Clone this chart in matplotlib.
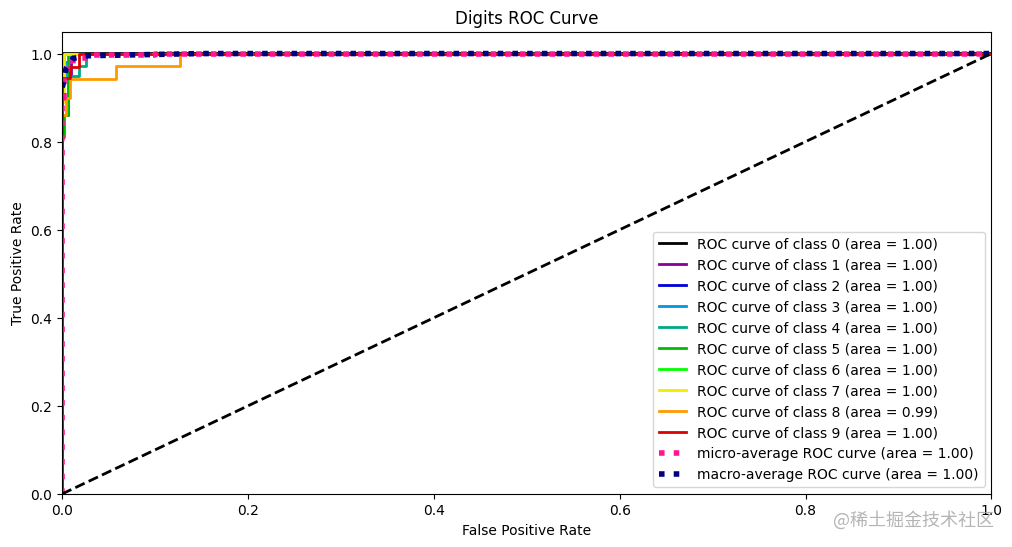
import matplotlib
matplotlib.use("Agg")
import matplotlib.pyplot as plt

class_fpr = [
    [0, 0, 0.001, 1],
    [0, 0, 0.006, 0.006, 0.010, 0.010, 1],
    [0, 0, 0.002, 0.002, 1],
    [0, 0, 0.003, 0.003, 0.010, 0.010, 1],
    [0, 0, 0.006, 0.006, 0.018, 0.018, 0.026, 0.026, 1],
    [0, 0, 0.002, 0.002, 0.006, 0.006, 1],
    [0, 0, 0.002, 0.002, 1],
    [0, 0, 0.002, 0.002, 0.018, 0.018, 1],
    [0, 0, 0.004, 0.004, 0.009, 0.009, 0.058, 0.058, 0.127, 0.127, 1],
    [0, 0, 0.0086, 0.0086, 0.0183, 0.0183, 1],
]
class_tpr = [
    [0, 0.98, 1, 1],
    [0, 0.86, 0.86, 0.95, 0.95, 1, 1],
    [0, 0.98, 0.98, 1, 1],
    [0, 0.95, 0.95, 0.98, 0.98, 1, 1],
    [0, 0.90, 0.90, 0.948, 0.948, 0.972, 0.972, 1, 1],
    [0, 0.81, 0.81, 0.86, 0.86, 1, 1],
    [0, 0.99, 0.99, 1, 1],
    [0, 0.89, 0.89, 1, 1, 1, 1],
    [0, 0.86, 0.86, 0.90, 0.90, 0.943, 0.943, 0.971, 0.971, 1, 1],
    [0, 0.945, 0.945, 0.97, 0.97, 1, 1],
]
class_area = ["1.00", "1.00", "1.00", "1.00", "1.00", "1.00", "1.00", "1.00", "0.99", "1.00"]
micro_fpr = [0, 0, 0.002, 0.002, 0.005, 0.005, 0.012, 0.012, 0.03, 0.03, 0.1, 0.1, 1]
micro_tpr = [0, 0.90, 0.90, 0.95, 0.95, 0.975, 0.975, 0.99, 0.99, 0.997, 0.997, 1, 1]
macro_fpr = [0, 0.002, 0.0043, 0.012, 0.027, 0.15, 1]
macro_tpr = [0.9235, 0.936, 0.966, 0.989, 0.995, 1, 1]
diag = [0, 1]

fig = plt.figure(figsize=(10.125, 5.475), dpi=100)
ax = fig.add_axes([62 / 1012, (547 - 494) / 547, 929 / 1012, 462 / 547])
cmap = plt.get_cmap("nipy_spectral")
for i in range(10):
    ax.plot(class_fpr[i], class_tpr[i], lw=2, color=cmap(i / 10),
            label=f"ROC curve of class {i} (area = {class_area[i]})")
ax.plot(micro_fpr, micro_tpr, label="micro-average ROC curve (area = 1.00)",
        color="deeppink", linestyle=":", linewidth=4)
ax.plot(macro_fpr, macro_tpr, label="macro-average ROC curve (area = 1.00)",
        color="navy", linestyle=":", linewidth=4)
ax.plot(diag, diag, "k--", lw=2)
ax.set_xlim(0.0, 1.0)
ax.set_ylim(0.0, 1.05)
ax.set_xlabel("False Positive Rate")
ax.set_ylabel("True Positive Rate")
ax.set_title("Digits ROC Curve", fontsize=12)
ax.legend(loc="lower right", fontsize=10)
fig.text(0.982, 0.049, "@稀土掘金技术社区", ha="right", va="center", fontsize=13,
         color="#a8a8a8", alpha=0.85, family=["Noto Sans CJK SC", "DejaVu Sans"])
fig.savefig("out.png", dpi=100)
